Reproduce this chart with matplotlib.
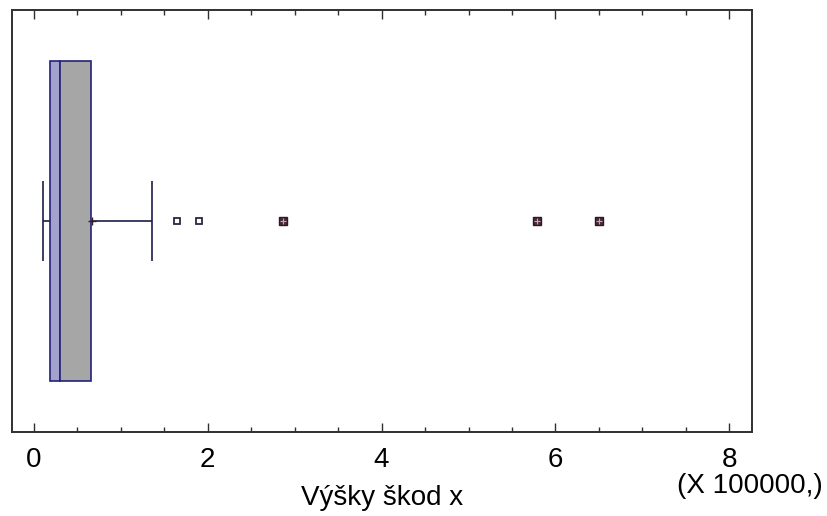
import numpy as np
import matplotlib.pyplot as plt
from matplotlib.ticker import MultipleLocator

# box plot summary of claim amounts (units of 100000)
whisker_lo = 0.10
q1 = 0.188
median = 0.303
q3 = 0.655
whisker_hi = 1.355
mean = 0.67
outliers = [1.65, 1.895]          # outside points
far_outliers = [2.86, 5.79, 6.50]  # far outside points

plt.rcParams['font.family'] = ['Liberation Sans', 'DejaVu Sans']

fig = plt.figure(figsize=(8.28, 5.16), dpi=100)
ax = fig.add_axes([0.0145, 0.1634, 0.8935, 0.8172])

yc = 0.5
box_h = 0.758
cap_h = 0.19
edge = '#23237a'

# box split at the median
ax.barh(yc, median - q1, left=q1, height=box_h, color='#a2a2cc',
        edgecolor=edge, linewidth=1.2, zorder=2)
ax.barh(yc, q3 - median, left=median, height=box_h, color='#a6a6a6',
        edgecolor=edge, linewidth=1.2, zorder=2)

# whiskers and caps
ax.hlines(yc, whisker_lo, q1, color='#1c1c48', linewidth=1.2, zorder=1)
ax.hlines(yc, q3, whisker_hi, color='#1c1c48', linewidth=1.2, zorder=1)
ax.vlines([whisker_lo, whisker_hi], yc - cap_h / 2, yc + cap_h / 2,
          color='#1c1c48', linewidth=1.2, zorder=1)

# mean
ax.plot([mean], [yc], marker='+', color='#3a1a2a', markersize=6,
        markeredgewidth=1, zorder=3)

# outliers
ax.plot(outliers, [yc] * len(outliers), linestyle='none', marker='s',
        markersize=5, markerfacecolor='white', markeredgecolor='#2a2a40',
        markeredgewidth=1.3, zorder=3)
ax.plot(far_outliers, [yc] * len(far_outliers), linestyle='none', marker='s',
        markersize=5.5, markerfacecolor='#4a2a38', markeredgecolor='#2a1a28',
        markeredgewidth=1, zorder=3)
ax.plot(far_outliers, [yc] * len(far_outliers), linestyle='none', marker='+',
        markersize=4.5, markeredgecolor='#d8a0b0', markeredgewidth=0.8, zorder=4)

ax.set_xlim(-0.253, 8.26)
ax.set_ylim(0, 1)
ax.set_yticks([])
ax.xaxis.set_major_locator(MultipleLocator(2))
ax.xaxis.set_minor_locator(MultipleLocator(0.5))
ax.tick_params(axis='x', which='both', direction='in', top=True,
               color='#303030', width=1)
ax.tick_params(axis='x', which='major', length=6.5, labelsize=20, pad=11)
ax.tick_params(axis='x', which='minor', length=3.5)
for s in ax.spines.values():
    s.set_color('#303030')
    s.set_linewidth(1.4)

ax.set_xlabel('Výšky škod x', fontsize=20, labelpad=9)
fig.text(0.994, 0.045, '(X 100000,)', fontsize=20, ha='right', va='baseline')

fig.savefig('out.png', dpi=100)
